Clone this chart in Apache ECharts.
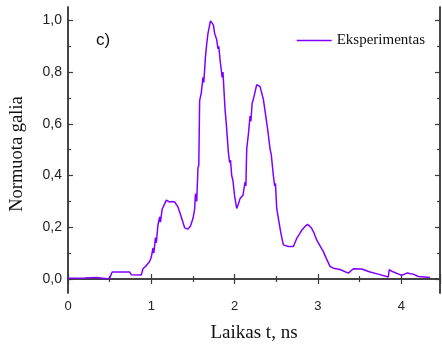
<!DOCTYPE html>
<html>
<head>
<meta charset="utf-8">
<script src="https://cdn.jsdelivr.net/npm/echarts@6/dist/echarts.min.js"></script>
<style>
  html, body { margin: 0; padding: 0; background: #fff; }
  #chart { width: 442px; height: 348px; }
</style>
</head>
<body>
<div id="chart"></div>
<script>
// Measured pulse: time (ns) and normalised power
const timeNs = [
  0.00, 0.20, 0.34, 0.47, 0.50, 0.53, 0.74, 0.76, 0.88, 0.90,
  0.94, 0.98, 1.00, 1.02, 1.03, 1.05, 1.06, 1.08, 1.10, 1.11,
  1.13, 1.15, 1.18, 1.22, 1.25, 1.28, 1.32, 1.36, 1.40, 1.44,
  1.47, 1.50, 1.52, 1.53, 1.545, 1.56, 1.57, 1.58, 1.60, 1.62,
  1.63, 1.65, 1.665, 1.68, 1.71, 1.745, 1.76, 1.785, 1.80, 1.81,
  1.825, 1.85, 1.86, 1.885, 1.90, 1.925, 1.94, 1.95, 1.965, 1.98,
  2.00, 2.025, 2.045, 2.065, 2.08, 2.10, 2.125, 2.135, 2.145, 2.165,
  2.185, 2.195, 2.21, 2.225, 2.24, 2.265, 2.285, 2.305, 2.325, 2.345,
  2.355, 2.385, 2.40, 2.425, 2.44, 2.465, 2.48, 2.49, 2.505, 2.52,
  2.545, 2.56, 2.585, 2.645, 2.705, 2.745, 2.78, 2.805, 2.85, 2.875,
  2.90, 2.925, 2.95, 2.985, 3.03, 3.065, 3.10, 3.145, 3.185, 3.265,
  3.365, 3.425, 3.525, 3.625, 3.745, 3.845, 3.855, 3.90, 4.005, 4.06,
  4.085, 4.11, 4.145, 4.205, 4.345
];
const power = [
  0.003, 0.004, 0.006, 0.001, 0.003, 0.027, 0.027, 0.017, 0.016, 0.040,
  0.052, 0.068, 0.085, 0.120, 0.100, 0.160, 0.140, 0.210, 0.240, 0.220,
  0.270, 0.270, 0.305, 0.298, 0.300, 0.298, 0.279, 0.240, 0.198, 0.193,
  0.205, 0.234, 0.270, 0.330, 0.300, 0.430, 0.440, 0.690, 0.720, 0.780,
  0.760, 0.860, 0.910, 0.950, 0.998, 0.983, 0.950, 0.925, 0.890, 0.900,
  0.848, 0.780, 0.800, 0.656, 0.600, 0.490, 0.450, 0.460, 0.400, 0.380,
  0.320, 0.273, 0.290, 0.311, 0.310, 0.324, 0.375, 0.360, 0.503, 0.560,
  0.630, 0.610, 0.680, 0.695, 0.690, 0.752, 0.752, 0.744, 0.720, 0.695,
  0.700, 0.605, 0.570, 0.503, 0.480, 0.400, 0.360, 0.370, 0.273, 0.280,
  0.196, 0.170, 0.132, 0.126, 0.126, 0.157, 0.175, 0.189, 0.205, 0.211,
  0.205, 0.196, 0.180, 0.151, 0.125, 0.106, 0.080, 0.049, 0.042, 0.037,
  0.023, 0.040, 0.039, 0.027, 0.017, 0.008, 0.036, 0.028, 0.014, 0.022,
  0.023, 0.020, 0.019, 0.010, 0.006
];
const yMajorTicks = [0, 0.2, 0.4, 0.6, 0.8, 1.0];
const yMinorTicks = [0.1, 0.3, 0.5, 0.7, 0.9];
const seriesName = 'Eksperimentas';
const panelTag = 'c)';
const xTitle = 'Laikas t, ns';
const yTitle = 'Normuota galia';

const lineColor = '#7f00ff';
const axisColor = '#3a3a3a';
const serif = 'Liberation Serif, Times New Roman, serif';
const sans = 'Liberation Sans, Arial, sans-serif';
const yMin = -0.054, yMax = 1.052;
const xMin = 0, xMax = 4.465;

const commaFmt = v => v.toFixed(1).replace('.', ',');

function frameY(position, withLabels, ticks, len) {
  return {
    type: 'value', position: position, min: yMin, max: yMax,
    axisLine: { show: true, lineStyle: { color: axisColor, width: 1.5 } },
    axisTick: { show: true, inside: true, length: len, customValues: ticks,
                lineStyle: { color: axisColor, width: 1.2 } },
    axisLabel: withLabels ? {
      show: true, customValues: ticks, formatter: commaFmt, margin: 6,
      fontFamily: sans, fontSize: 14, color: '#222'
    } : { show: false },
    splitLine: { show: false }
  };
}

const chart = echarts.init(document.getElementById('chart'), null, { renderer: 'canvas' });
chart.setOption({
  animation: false,
  backgroundColor: '#fff',
  grid: { left: 68, right: 2, top: 7, bottom: 53 },
  legend: {
    data: [seriesName], right: 12, top: 28, icon: 'rect',
    itemWidth: 35, itemHeight: 1.6, itemGap: 4,
    textStyle: { fontFamily: serif, fontSize: 15, color: '#111' }
  },
  graphic: [{
    type: 'text', left: 96, top: 32,
    style: { text: panelTag, font: '17px "Liberation Sans", Arial, sans-serif', fill: '#111' }
  }, {
    // vertical axis title
    type: 'text', x: 17, y: 154, rotation: Math.PI / 2,
    style: { text: yTitle, font: '18.5px "Liberation Serif", "Times New Roman", serif',
             fill: '#111', align: 'center', verticalAlign: 'middle' }
  }],
  xAxis: [{
    type: 'value', position: 'bottom', min: xMin, max: xMax, interval: 1,
    name: xTitle, nameLocation: 'middle', nameGap: 31,
    nameTextStyle: { fontFamily: serif, fontSize: 19, color: '#111' },
    axisLine: { show: true, lineStyle: { color: axisColor, width: 1.5 } },
    axisTick: { show: true, inside: true, length: 5, lineStyle: { color: axisColor, width: 1.2 } },
    minorTick: { show: true, splitNumber: 2, length: 3, lineStyle: { color: axisColor, width: 1.2 } },
    axisLabel: { margin: 7, fontFamily: sans, fontSize: 13, color: '#222', showMaxLabel: false },
    splitLine: { show: false }
  }, {
    type: 'value', position: 'top', min: xMin, max: xMax, interval: 1,
    axisLine: { show: true, lineStyle: { color: axisColor, width: 1.5 } },
    axisTick: { show: true, inside: true, length: 5, lineStyle: { color: axisColor, width: 1.2 } },
    minorTick: { show: true, splitNumber: 2, length: 3, lineStyle: { color: axisColor, width: 1.2 } },
    axisLabel: { show: false },
    splitLine: { show: false }
  }],
  yAxis: [
    frameY('left', true, yMajorTicks, 5),
    frameY('left', false, yMinorTicks, 3),
    frameY('right', false, yMajorTicks, 5),
    frameY('right', false, yMinorTicks, 3)
  ],
  series: [{
    name: seriesName, type: 'line', xAxisIndex: 0, yAxisIndex: 0,
    showSymbol: false, symbol: 'none',
    lineStyle: { color: lineColor, width: 1.5 },
    itemStyle: { color: lineColor },
    data: timeNs.map((t, i) => [t, power[i]])
  }]
});
</script>
</body>
</html>
